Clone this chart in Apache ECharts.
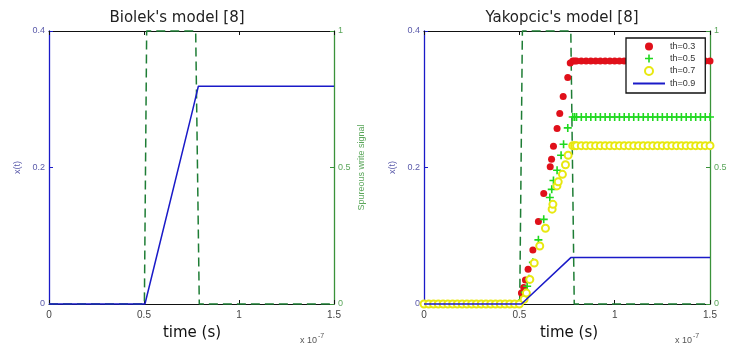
<!DOCTYPE html>
<html><head><meta charset="utf-8">
<script src="https://cdn.jsdelivr.net/npm/echarts@6/dist/echarts.min.js"></script>
<style>html,body{margin:0;padding:0;background:#fff}#c{width:735px;height:347px}</style>
</head><body><div id="c"></div>
<script>
// ---- data (time in units of 1e-7 s) ----
const xTicks = [0, 0.5, 1, 1.5];
const leftYTicks = [0, 0.2, 0.4];
const rightYTicks = [0, 0.5, 1];

// Biolek's model
const biolekT = [0, 0.505, 0.756, 0.786, 1.5];
const biolekX = [0, 0, 0.284, 0.319, 0.319];
const sigLeftT = [0, 0.502, 0.514, 0.772, 0.791, 1.5];
const sigLeftV = [0, 0, 1, 1, 0, 0];

// Yakopcic's model
const sigRightT = [0, 0.502, 0.516, 0.770, 0.788, 1.5];
const sigRightV = [0, 0, 1, 1, 0, 0];
const lowTimes = [0,0.025,0.05,0.075,0.1,0.125,0.15,0.175,0.2,0.225,0.25,0.275,0.3,0.325,0.35,0.375,0.4,0.425,0.45,0.475,0.5];
const lowValues = [0,0,0,0,0,0,0,0,0,0,0,0,0,0,0,0,0,0,0,0,0];
const highTimes = [0.78,0.79,0.8,0.825,0.85,0.875,0.9,0.925,0.95,0.975,1,1.025,1.05,1.075,1.1,1.125,1.15,1.175,1.2,1.225,1.25,1.275,1.3,1.325,1.35,1.375,1.4,1.425,1.45,1.475,1.5];

const th03RiseT = [0.511,0.523,0.532,0.546,0.571,0.600,0.628,0.662,0.669,0.679,0.698,0.712,0.730,0.754,0.767];
const th03RiseX = [0.016,0.024,0.035,0.051,0.079,0.121,0.162,0.201,0.212,0.231,0.257,0.279,0.304,0.332,0.353];
const th03High = [0.356,0.356,0.356,0.356,0.356,0.356,0.356,0.356,0.356,0.356,0.356,0.356,0.356,0.356,0.356,0.356,0.356,0.356,0.356,0.356,0.356,0.356,0.356,0.356,0.356,0.356,0.356,0.356,0.356,0.356,0.356];

const th05RiseT = [0.515,0.529,0.541,0.551,0.571,0.600,0.628,0.660,0.670,0.679,0.698,0.719,0.732,0.754];
const th05RiseX = [0.006,0.017,0.026,0.037,0.061,0.094,0.124,0.156,0.168,0.181,0.196,0.218,0.234,0.258];
const th05High = [0.274,0.274,0.274,0.274,0.274,0.274,0.274,0.274,0.274,0.274,0.274,0.274,0.274,0.274,0.274,0.274,0.274,0.274,0.274,0.274,0.274,0.274,0.274,0.274,0.274,0.274,0.274,0.274,0.274,0.274,0.274];

const th07RiseT = [0.525,0.537,0.555,0.578,0.607,0.637,0.672,0.676,0.697,0.704,0.726,0.742,0.756];
const th07RiseX = [0.007,0.016,0.036,0.060,0.085,0.111,0.139,0.146,0.173,0.179,0.190,0.204,0.218];
const th07High = [0.232,0.232,0.232,0.232,0.232,0.232,0.232,0.232,0.232,0.232,0.232,0.232,0.232,0.232,0.232,0.232,0.232,0.232,0.232,0.232,0.232,0.232,0.232,0.232,0.232,0.232,0.232,0.232,0.232,0.232,0.232];

const th09T = [0, 0.511, 0.770, 1.5];
const th09X = [0, 0, 0.068, 0.068];

const legendNames = ['th=0.3', 'th=0.5', 'th=0.7', 'th=0.9'];

// ---- helpers ----
const zip = (a, b) => a.map((v, i) => [v, b[i]]);
const pts = (rt, rx, ht) => zip(lowTimes, lowValues).concat(zip(rt, rx), zip(highTimes, ht));

const BLUE = '#1a1ac8', GREEN_AX = '#3a923a', DASH = '#1e7d35';
const BLUE_TXT = '#5a5aaa', GREEN_TXT = '#5aa65a';
const TICKFONT = 'Liberation Sans';

function xAxisPair(gi) {
  return [
    { gridIndex: gi, type: 'value', min: 0, max: 1.5, interval: 0.5, position: 'bottom',
      axisLine: { onZero: false, lineStyle: { color: '#111', width: 1 } },
      axisTick: { inside: true, length: 4, lineStyle: { color: '#111' } },
      axisLabel: { color: '#444', fontSize: 10, fontFamily: TICKFONT, margin: 6, formatter: v => String(v) },
      splitLine: { show: false } },
    { gridIndex: gi, type: 'value', min: 0, max: 1.5, interval: 0.5, position: 'top',
      axisLine: { onZero: false, lineStyle: { color: '#111', width: 1 } },
      axisTick: { inside: true, length: 4, lineStyle: { color: '#111' } },
      axisLabel: { show: false }, splitLine: { show: false } }
  ];
}
function yAxisPair(gi, rightName) {
  return [
    { gridIndex: gi, type: 'value', min: 0, max: 0.4, interval: 0.2, position: 'left',
      name: 'x(t)', nameLocation: 'middle', nameRotate: 90, nameGap: 27,
      nameTextStyle: { color: BLUE_TXT, fontSize: 9, fontFamily: TICKFONT },
      axisLine: { show: true, onZero: false, lineStyle: { color: BLUE, width: 1.3 } },
      axisTick: { show: true, inside: true, length: 4, lineStyle: { color: BLUE } },
      axisLabel: { color: BLUE_TXT, fontSize: 9, fontFamily: TICKFONT, margin: 4, formatter: v => String(v) },
      splitLine: { show: false } },
    { gridIndex: gi, type: 'value', min: 0, max: 1, interval: 0.5, position: 'right',
      name: rightName, nameLocation: 'middle', nameRotate: 90, nameGap: 23,
      nameTextStyle: { color: GREEN_TXT, fontSize: 9, fontFamily: TICKFONT },
      axisLine: { show: true, onZero: false, lineStyle: { color: GREEN_AX, width: 1.3 } },
      axisTick: { show: true, inside: true, length: 4, lineStyle: { color: GREEN_AX } },
      axisLabel: { color: GREEN_TXT, fontSize: 9, fontFamily: TICKFONT, margin: 4, formatter: v => String(v) },
      splitLine: { show: false } }
  ];
}

const plusPath = 'path://M4,0 L6,0 L6,4 L10,4 L10,6 L6,6 L6,10 L4,10 L4,6 L0,6 L0,4 L4,4 Z';

const option = {
  animation: false,
  backgroundColor: '#fff',
  grid: [
    { left: 49, top: 31, width: 285, height: 273 },
    { left: 424, top: 31, width: 286, height: 273 }
  ],
  xAxis: xAxisPair(0).concat(xAxisPair(1)),
  yAxis: yAxisPair(0, 'Spureous write signal').concat(yAxisPair(1, '')),
  legend: {
    data: [
      { name: legendNames[0] },
      { name: legendNames[1] },
      { name: legendNames[2] },
      { name: legendNames[3], itemStyle: { opacity: 0 }, lineStyle: { width: 2 } }
    ],
    orient: 'vertical', left: 626, top: 38,
    itemWidth: 32, itemHeight: 8, itemGap: 3, padding: [4, 10, 5, 6],
    borderColor: '#111', borderWidth: 1.3, backgroundColor: '#fff', borderRadius: 0,
    textStyle: { fontSize: 9, color: '#333', fontFamily: TICKFONT }, z: 10
  },
  graphic: [
    { type: 'text', x: 177, y: 18, style: { text: "Biolek's model [8]", font: '15px "DejaVu Sans"', fill: '#222', textAlign: 'center', textVerticalAlign: 'middle', align: 'center', verticalAlign: 'middle' } },
    { type: 'text', x: 562, y: 18, style: { text: "Yakopcic's model [8]", font: '15px "DejaVu Sans"', fill: '#222', textAlign: 'center', textVerticalAlign: 'middle', align: 'center', verticalAlign: 'middle' } },
    { type: 'text', x: 192, y: 333, style: { text: 'time (s)', font: '15px "DejaVu Sans"', fill: '#111', textAlign: 'center', textVerticalAlign: 'middle', align: 'center', verticalAlign: 'middle' } },
    { type: 'text', x: 569, y: 333, style: { text: 'time (s)', font: '15px "DejaVu Sans"', fill: '#111', textAlign: 'center', textVerticalAlign: 'middle', align: 'center', verticalAlign: 'middle' } },
    { type: 'text', x: 300, y: 341, style: { text: 'x 10', font: '9px "Liberation Sans"', fill: '#555', textVerticalAlign: 'middle', verticalAlign: 'middle' } },
    { type: 'text', x: 318, y: 336, style: { text: '-7', font: '7px "Liberation Sans"', fill: '#555', textVerticalAlign: 'middle', verticalAlign: 'middle' } },
    { type: 'text', x: 675, y: 341, style: { text: 'x 10', font: '9px "Liberation Sans"', fill: '#555', textVerticalAlign: 'middle', verticalAlign: 'middle' } },
    { type: 'text', x: 693, y: 336, style: { text: '-7', font: '7px "Liberation Sans"', fill: '#555', textVerticalAlign: 'middle', verticalAlign: 'middle' } }
  ],
  series: [
    { name: 'signalL', type: 'line', xAxisIndex: 0, yAxisIndex: 1, data: zip(sigLeftT, sigLeftV),
      showSymbol: false, symbol: 'none', clip: false,
      lineStyle: { color: DASH, width: 1.5, type: [9, 5] }, z: 3 },
    { name: 'biolek', type: 'line', xAxisIndex: 0, yAxisIndex: 0, data: zip(biolekT, biolekX),
      showSymbol: false, symbol: 'none', clip: false,
      lineStyle: { color: BLUE, width: 1.5 }, z: 4 },
    { name: 'signalR', type: 'line', xAxisIndex: 2, yAxisIndex: 3, data: zip(sigRightT, sigRightV),
      showSymbol: false, symbol: 'none', clip: false,
      lineStyle: { color: DASH, width: 1.5, type: [9, 5] }, z: 3 },
    { name: 'th=0.3', type: 'scatter', xAxisIndex: 2, yAxisIndex: 2, data: pts(th03RiseT, th03RiseX, th03High),
      symbol: 'circle', symbolSize: 7, itemStyle: { color: '#e0101a', opacity: 1 }, z: 4 },
    { name: 'th=0.5', type: 'scatter', xAxisIndex: 2, yAxisIndex: 2, data: pts(th05RiseT, th05RiseX, th05High),
      symbol: plusPath, symbolSize: 8, itemStyle: { color: '#1ed81e', opacity: 1 }, z: 5 },
    { name: 'th=0.7', type: 'scatter', xAxisIndex: 2, yAxisIndex: 2, data: pts(th07RiseT, th07RiseX, th07High),
      symbol: 'emptyCircle', symbolSize: 7, itemStyle: { color: '#e8e810', borderColor: '#e8e810', borderWidth: 1.6, opacity: 1 }, z: 6 },
    { name: 'th=0.9', type: 'line', xAxisIndex: 2, yAxisIndex: 2, data: zip(th09T, th09X),
      showSymbol: false, symbol: 'none', clip: false,
      lineStyle: { color: BLUE, width: 1.5 }, itemStyle: { color: BLUE, opacity: 0 }, z: 7 }
  ]
};

const chart = echarts.init(document.getElementById('c'), null, { renderer: 'canvas' });
chart.setOption(option);
</script>
</body></html>
